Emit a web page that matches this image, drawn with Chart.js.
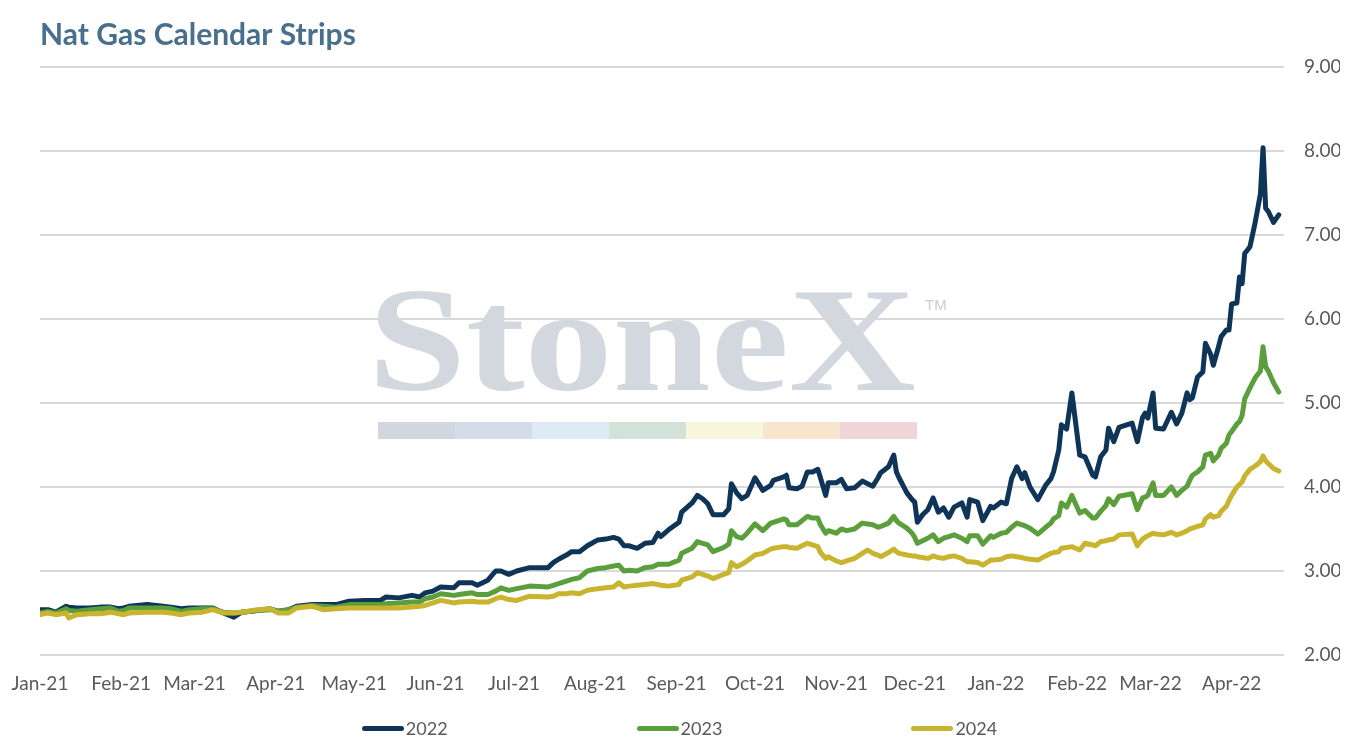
<!DOCTYPE html>
<html>
<head>
<meta charset="utf-8">
<title>Nat Gas Calendar Strips</title>
<script src="https://cdn.jsdelivr.net/npm/chart.js@4.4.1/dist/chart.umd.min.js"></script>
<style>
  body { margin: 0; background: #fff; }
  #wrap { position: relative; width: 1350px; height: 750px; }
  #legend {
    position: absolute; left: 0; top: 716px; width: 1350px; box-sizing: border-box;
    padding-left: 9px; display: flex; justify-content: center; gap: 189px;
    font: 18px Lato, sans-serif; color: #595959; line-height: 24px;
  }
  .item { display: flex; align-items: center; }
  .swatch { display: inline-block; width: 42px; height: 5px; border-radius: 3px; margin-right: 2px; }
</style>
</head>
<body>
<div id="wrap">
  <canvas id="myChart"></canvas>
  <div id="legend"></div>
</div>
<script>
// Calendar strip settlements

const dates = [
  '2021-01-04','2021-01-07','2021-01-10','2021-01-14','2021-01-15','2021-01-18','2021-01-23','2021-01-27','2021-01-31','2021-02-03',
  '2021-02-05','2021-02-07','2021-02-14','2021-02-20','2021-02-23','2021-02-27','2021-03-02','2021-03-07','2021-03-11','2021-03-15',
  '2021-03-19','2021-03-22','2021-03-28','2021-04-02','2021-04-05','2021-04-09','2021-04-12','2021-04-18','2021-04-22','2021-04-27',
  '2021-05-02','2021-05-08','2021-05-14','2021-05-16','2021-05-21','2021-05-26','2021-05-29','2021-05-31','2021-06-03','2021-06-06',
  '2021-06-11','2021-06-13','2021-06-18','2021-06-20','2021-06-24','2021-06-27','2021-06-29','2021-07-02','2021-07-05','2021-07-10',
  '2021-07-17','2021-07-19','2021-07-21','2021-07-24','2021-07-26','2021-07-29','2021-08-01','2021-08-05','2021-08-08','2021-08-11',
  '2021-08-13','2021-08-15','2021-08-17','2021-08-20','2021-08-23','2021-08-26','2021-08-28','2021-08-29','2021-09-01','2021-09-05',
  '2021-09-06','2021-09-10','2021-09-12','2021-09-14','2021-09-16','2021-09-18','2021-09-22','2021-09-24','2021-09-25','2021-09-27',
  '2021-09-29','2021-10-01','2021-10-04','2021-10-07','2021-10-10','2021-10-11','2021-10-15','2021-10-16','2021-10-17','2021-10-20',
  '2021-10-22','2021-10-24','2021-10-26','2021-10-28','2021-10-29','2021-10-31','2021-11-01','2021-11-04','2021-11-06','2021-11-08',
  '2021-11-11','2021-11-14','2021-11-16','2021-11-18','2021-11-20','2021-11-21','2021-11-24','2021-11-26','2021-11-27','2021-11-28',
  '2021-12-01','2021-12-03','2021-12-04','2021-12-05','2021-12-07','2021-12-09','2021-12-11','2021-12-13','2021-12-15','2021-12-17',
  '2021-12-19','2021-12-22','2021-12-24','2021-12-25','2021-12-28','2021-12-30','2022-01-02','2022-01-03','2022-01-06','2022-01-08',
  '2022-01-10','2022-01-12','2022-01-14','2022-01-15','2022-01-17','2022-01-20','2022-01-23','2022-01-25','2022-01-26','2022-01-28',
  '2022-01-29','2022-01-31','2022-02-02','2022-02-05','2022-02-07','2022-02-10','2022-02-11','2022-02-13','2022-02-15','2022-02-16',
  '2022-02-18','2022-02-20','2022-02-25','2022-02-27','2022-03-01','2022-03-02','2022-03-03','2022-03-05','2022-03-06','2022-03-09',
  '2022-03-12','2022-03-14','2022-03-16','2022-03-18','2022-03-19','2022-03-20','2022-03-22','2022-03-24','2022-03-25','2022-03-27',
  '2022-03-28','2022-03-30','2022-03-31','2022-04-02','2022-04-03','2022-04-04','2022-04-06','2022-04-07','2022-04-08','2022-04-09',
  '2022-04-11','2022-04-13','2022-04-15','2022-04-16','2022-04-17','2022-04-18','2022-04-20','2022-04-22'
];

const strip2022 = [
  2.54,2.54,2.51,2.58,2.57,2.56,2.56,2.57,2.57,2.55,
  2.56,2.58,2.60,2.58,2.57,2.55,2.56,2.56,2.56,2.50,
  2.45,2.51,2.53,2.55,2.52,2.54,2.58,2.60,2.60,2.60,
  2.64,2.65,2.65,2.69,2.68,2.71,2.69,2.74,2.76,2.81,
  2.80,2.86,2.86,2.83,2.89,3.00,3.00,2.96,3.00,3.04,
  3.04,3.10,3.14,3.19,3.23,3.23,3.30,3.37,3.38,3.40,
  3.38,3.30,3.30,3.27,3.33,3.34,3.45,3.41,3.49,3.58,
  3.70,3.81,3.90,3.86,3.80,3.67,3.67,3.74,4.04,3.93,
  3.86,3.90,4.11,3.96,4.02,4.08,4.12,4.14,3.99,3.98,
  4.01,4.18,4.18,4.21,4.11,3.90,4.05,4.05,4.09,3.98,
  3.99,4.07,4.04,4.01,4.11,4.17,4.24,4.38,4.18,4.11,
  3.93,3.85,3.82,3.58,3.67,3.73,3.87,3.70,3.75,3.64,
  3.76,3.81,3.64,3.85,3.82,3.60,3.77,3.75,3.82,3.80,
  4.10,4.24,4.10,4.17,4.00,3.85,4.02,4.10,4.18,4.44,
  4.74,4.69,5.12,4.38,4.36,4.14,4.12,4.36,4.44,4.70,
  4.54,4.71,4.76,4.54,4.83,4.88,4.82,5.12,4.70,4.69,
  4.89,4.75,4.88,5.12,5.04,5.06,5.31,5.37,5.71,5.58,
  5.45,5.67,5.79,5.87,5.87,6.18,6.19,6.50,6.42,6.78,
  6.86,7.15,7.49,8.04,7.32,7.28,7.15,7.24
];

const strip2023 = [
  2.50,2.52,2.50,2.55,2.53,2.52,2.54,2.55,2.56,2.52,
  2.53,2.56,2.56,2.56,2.55,2.52,2.54,2.55,2.55,2.51,
  2.50,2.51,2.53,2.54,2.52,2.54,2.57,2.59,2.58,2.57,
  2.60,2.60,2.60,2.61,2.62,2.63,2.63,2.67,2.69,2.73,
  2.71,2.72,2.74,2.72,2.72,2.76,2.80,2.77,2.79,2.82,
  2.81,2.83,2.85,2.88,2.90,2.92,3.00,3.03,3.04,3.06,
  3.07,3.00,3.01,3.00,3.04,3.05,3.08,3.08,3.08,3.13,
  3.21,3.27,3.35,3.33,3.31,3.23,3.28,3.32,3.48,3.41,
  3.39,3.45,3.56,3.48,3.57,3.58,3.62,3.61,3.55,3.55,
  3.60,3.65,3.63,3.63,3.55,3.45,3.48,3.45,3.50,3.48,
  3.50,3.57,3.56,3.55,3.52,3.53,3.57,3.65,3.60,3.57,
  3.51,3.45,3.40,3.33,3.36,3.39,3.43,3.35,3.39,3.41,
  3.43,3.39,3.35,3.42,3.42,3.32,3.42,3.40,3.45,3.46,
  3.52,3.57,3.55,3.54,3.51,3.44,3.52,3.57,3.62,3.66,
  3.81,3.76,3.90,3.69,3.72,3.63,3.63,3.71,3.78,3.86,
  3.79,3.89,3.92,3.73,3.87,3.88,3.90,4.05,3.90,3.90,
  4.00,3.90,3.96,4.01,4.08,4.14,4.18,4.24,4.38,4.40,
  4.31,4.38,4.46,4.52,4.62,4.66,4.75,4.78,4.85,5.05,
  5.18,5.30,5.38,5.67,5.43,5.38,5.24,5.13
];

const strip2024 = [
  2.48,2.50,2.48,2.50,2.44,2.48,2.49,2.49,2.51,2.49,
  2.48,2.50,2.51,2.51,2.50,2.48,2.50,2.51,2.54,2.50,
  2.50,2.51,2.54,2.55,2.50,2.50,2.56,2.58,2.54,2.55,
  2.56,2.56,2.56,2.56,2.56,2.57,2.58,2.59,2.62,2.65,
  2.62,2.63,2.64,2.63,2.63,2.67,2.69,2.66,2.65,2.70,
  2.69,2.70,2.73,2.73,2.74,2.73,2.77,2.79,2.80,2.81,
  2.86,2.81,2.82,2.83,2.84,2.85,2.84,2.83,2.82,2.84,
  2.89,2.93,2.98,2.96,2.94,2.91,2.96,2.98,3.10,3.05,
  3.08,3.12,3.19,3.21,3.26,3.27,3.29,3.29,3.28,3.27,
  3.30,3.33,3.31,3.29,3.22,3.15,3.17,3.12,3.10,3.12,
  3.15,3.21,3.25,3.21,3.19,3.17,3.22,3.26,3.23,3.21,
  3.19,3.18,3.18,3.17,3.16,3.15,3.18,3.16,3.15,3.17,
  3.18,3.15,3.11,3.11,3.10,3.07,3.13,3.13,3.14,3.17,
  3.18,3.17,3.16,3.15,3.14,3.13,3.18,3.21,3.22,3.23,
  3.27,3.28,3.29,3.25,3.33,3.31,3.30,3.35,3.36,3.37,
  3.38,3.43,3.44,3.30,3.38,3.40,3.42,3.45,3.44,3.43,
  3.46,3.43,3.45,3.48,3.50,3.51,3.53,3.55,3.62,3.67,
  3.64,3.66,3.71,3.77,3.84,3.90,4.00,4.03,4.06,4.13,
  4.21,4.25,4.30,4.37,4.31,4.28,4.22,4.19
];

// month ticks on the x axis (Excel date axis, starts on the first date)
const tickDates = ['2021-01-04','2021-02-04','2021-03-04','2021-04-04','2021-05-04','2021-06-04','2021-07-04','2021-08-04',
                   '2021-09-04','2021-10-04','2021-11-04','2021-12-04','2022-01-04','2022-02-04','2022-03-04','2022-04-04'];
const tickLabels = ['Jan-21','Feb-21','Mar-21','Apr-21','May-21','Jun-21','Jul-21','Aug-21',
                    'Sep-21','Oct-21','Nov-21','Dec-21','Jan-22','Feb-22','Mar-22','Apr-22'];

// watermark strip colours
const stripColors = ['#d2d7df','#d3dce8','#deeaf4','#d3e2d9','#f8f6dd','#f8e5cd','#f1d4d5'];

const dayIndex = s => (Date.parse(s) - Date.parse(dates[0])) / 86400000;
const toPoints = vals => dates.map((d, i) => ({ x: dayIndex(d), y: vals[i] }));

// StoneX logo behind the grid
const watermark = {
    id: 'watermark',
    beforeDraw(chart) {
        const { ctx, chartArea } = chart;
        const left = chartArea.left + 338;
        ctx.save();
        ctx.fillStyle = '#ffffff';
        ctx.fillRect(0, 0, chart.width, chart.height);

        ctx.font = 'bold 148px "Liberation Serif", serif';
        ctx.textBaseline = 'alphabetic';
        ctx.fillStyle = '#d3d8df';
        const w = ctx.measureText('StoneX').width;
        ctx.save();
        ctx.translate(left - 10, chartArea.top + 323);
        ctx.scale(548 / w, 1);
        ctx.fillText('StoneX', 0, 0);
        ctx.restore();

        ctx.font = '15px "Liberation Sans", sans-serif';
        ctx.fillStyle = '#c8cdd4';
        ctx.fillText('TM', left + 547, chartArea.top + 243);

        stripColors.forEach((c, i) => {
            ctx.fillStyle = c;
            ctx.fillRect(left + i * 77, chartArea.top + 355, 77, 17);
        });
        ctx.restore();
    }
};

Chart.defaults.font.family = 'Lato, sans-serif';
Chart.defaults.color = '#595959';

const ctx = document.getElementById('myChart');

const myChart = new Chart(ctx, {
    type: 'line',
    data: {
        datasets: [{
            label: '2022',
            data: toPoints(strip2022),
            borderColor: '#0e3457',
            order: 3
        },
        {
            label: '2023',
            data: toPoints(strip2023),
            borderColor: '#5b9e3c',
            order: 2
        },
        {
            label: '2024',
            data: toPoints(strip2024),
            borderColor: '#c9b42f',
            order: 1
        }]
    },
    options: {
        responsive: true,
        maintainAspectRatio: false,
        animation: false,
        layout: {
            padding: { left: 40, right: 10, top: 0, bottom: 41 }
        },
        elements: {
            line: { tension: 0, borderWidth: 5, borderCapStyle: 'round', borderJoinStyle: 'round' },
            point: { radius: 0, hoverRadius: 0 }
        },
        scales: {
            x: {
                type: 'linear',
                min: 0,
                max: dayIndex(dates[dates.length - 1]) + 2,
                grid: { display: false },
                border: { display: false },
                afterBuildTicks: axis => {
                    axis.ticks = tickDates.map(d => ({ value: dayIndex(d) }));
                },
                afterFit: axis => { axis.height = 54; },
                ticks: {
                    autoSkip: false,
                    maxRotation: 0,
                    padding: 9,
                    font: { size: 19 },
                    callback: (value, index) => tickLabels[index]
                }
            },
            y: {
                position: 'right',
                min: 2,
                max: 9,
                grid: { color: '#d9d9d9', lineWidth: 2, drawTicks: false },
                border: { display: false },
                afterFit: axis => { axis.width = 56; },
                ticks: {
                    stepSize: 1,
                    padding: 20,
                    font: { size: 19 },
                    callback: value => value.toFixed(2)
                }
            }
        },
        plugins: {
            title: {
                display: true,
                text: 'Nat Gas Calendar Strips',
                align: 'start',
                color: '#48708c',
                font: { size: 30, weight: 'bold' },
                padding: { top: 17, bottom: 14 }
            },
            legend: { display: false },
            tooltip: { enabled: false }
        }
    },
    plugins: [watermark]
});

// legend below the chart, built from the datasets
const legendEl = document.getElementById('legend');
myChart.data.datasets.forEach(ds => {
    const item = document.createElement('span');
    item.className = 'item';
    item.innerHTML = '<span class="swatch" style="background:' + ds.borderColor + '"></span>' + ds.label;
    legendEl.appendChild(item);
});
</script>
</body>
</html>
